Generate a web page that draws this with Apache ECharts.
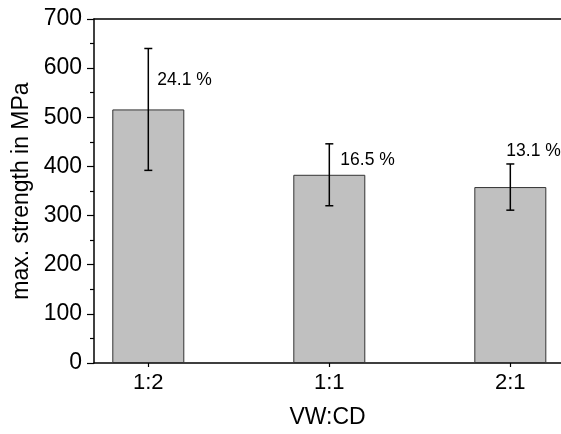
<!DOCTYPE html>
<html>
<head>
<meta charset="utf-8">
<script src="https://cdn.jsdelivr.net/npm/echarts@6/dist/echarts.min.js"></script>
<style>
  html, body { margin: 0; padding: 0; background: #fff; }
  #chart { width: 561px; height: 434px; }
</style>
</head>
<body>
<div id="chart"></div>
<script>
// data
var categories = ["1:2", "1:1", "2:1"];
var strength = [516, 383, 358];
var stdDev = [124, 63, 47];
var cvLabels = ["24.1 %", "16.5 %", "13.1 %"];

// label offset from the top of each error bar (px)
var labelShift = [[9, 32], [11, 16], [-4, -13]];

var font = "'Liberation Sans', Arial, sans-serif";
var xPos = categories.map(function (c, i) { return i + 1; });

var chart = echarts.init(document.getElementById("chart"));

var option = {
  animation: false,
  textStyle: { fontFamily: font },
  grid: { left: 94, right: 0, top: 19, bottom: 65 },
  xAxis: [
    {
      type: "value",
      min: 0.7,
      max: 3.28,
      name: "VW:CD",
      nameLocation: "middle",
      nameGap: 43,
      nameTextStyle: { fontSize: 23, color: "#000", fontFamily: font },
      splitLine: { show: false },
      axisLine: { onZero: false, lineStyle: { color: "#000", width: 1.5 } },
      axisTick: { customValues: xPos, length: 4, lineStyle: { color: "#000", width: 1.2 } },
      axisLabel: {
        customValues: xPos,
        margin: 9,
        fontSize: 22,
        color: "#000",
        fontFamily: font,
        formatter: function (v) { return categories[Math.round(v) - 1]; }
      }
    },
    {
      type: "value",
      position: "top",
      min: 0.7,
      max: 3.28,
      splitLine: { show: false },
      axisLine: { onZero: false, lineStyle: { color: "#000", width: 1.5 } },
      axisTick: { show: false },
      axisLabel: { show: false }
    }
  ],
  yAxis: {
    type: "value",
    min: 0,
    max: 700,
    interval: 100,
    name: "max. strength in MPa",
    nameLocation: "middle",
    nameGap: 59,
    nameTextStyle: { fontSize: 23, color: "#000", fontFamily: font },
    splitLine: { show: false },
    axisLine: { show: true, lineStyle: { color: "#000", width: 1.5 } },
    axisTick: { length: 7, lineStyle: { color: "#000", width: 1.2 } },
    minorTick: { show: true, splitNumber: 2, length: 4, lineStyle: { color: "#000", width: 1.2 } },
    axisLabel: { margin: 12, fontSize: 23, color: "#000", fontFamily: font }
  },
  series: [
    {
      type: "bar",
      barWidth: 72,
      data: strength.map(function (v, i) { return [xPos[i], v]; }),
      itemStyle: { color: "#c0c0c0", borderColor: "#333", borderWidth: 1 },
      z: 2
    },
    {
      type: "custom",
      z: 5,
      data: strength.map(function (v, i) { return [xPos[i], v - stdDev[i], v + stdDev[i], i]; }),
      renderItem: function (params, api) {
        var lo = api.coord([api.value(0), api.value(1)]);
        var hi = api.coord([api.value(0), api.value(2)]);
        var idx = api.value(3);
        var cap = 4;
        var st = { stroke: "#000", lineWidth: 1.5 };
        return {
          type: "group",
          children: [
            { type: "line", shape: { x1: hi[0], y1: hi[1], x2: lo[0], y2: lo[1] }, style: st },
            { type: "line", shape: { x1: hi[0] - cap, y1: hi[1], x2: hi[0] + cap, y2: hi[1] }, style: st },
            { type: "line", shape: { x1: lo[0] - cap, y1: lo[1], x2: lo[0] + cap, y2: lo[1] }, style: st },
            {
              type: "text",
              x: hi[0] + labelShift[idx][0],
              y: hi[1] + labelShift[idx][1],
              style: {
                text: cvLabels[idx],
                fontSize: 17.5,
                fontFamily: font,
                fill: "#000",
                align: "left",
                verticalAlign: "middle"
              }
            }
          ]
        };
      }
    }
  ]
};

chart.setOption(option);
window.onresize = function () { chart.resize(); };
</script>
</body>
</html>
